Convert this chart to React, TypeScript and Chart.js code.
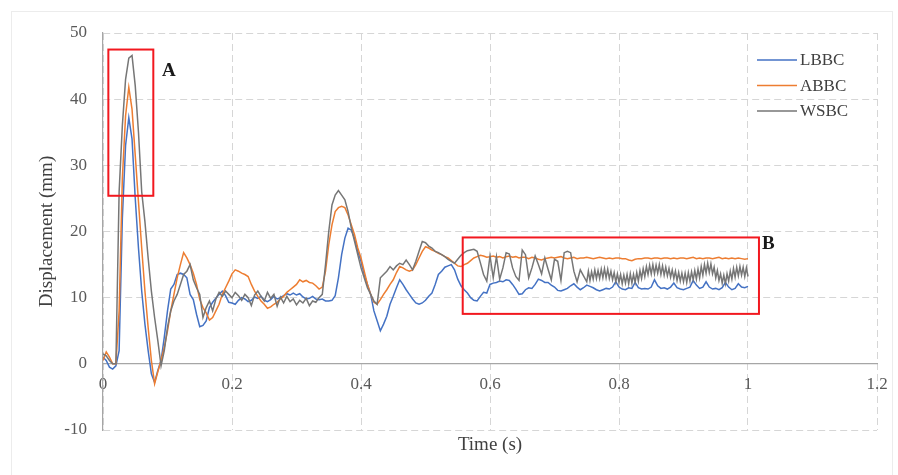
import React, { useEffect, useRef } from "react";
import { Chart, registerables } from "chart.js";

Chart.register(...registerables);

// ---- data ----
const TIME = [
  0, 0.005, 0.01, 0.015, 0.02, 0.025, 0.03, 0.035, 0.04, 0.045,
  0.05, 0.055, 0.06, 0.065, 0.07, 0.075, 0.08, 0.085, 0.09, 0.095,
  0.1, 0.105, 0.11, 0.115, 0.12, 0.125, 0.13, 0.135, 0.14, 0.145,
  0.15, 0.155, 0.16, 0.165, 0.17, 0.175, 0.18, 0.185, 0.19, 0.195,
  0.2, 0.205, 0.21, 0.215, 0.22, 0.225, 0.23, 0.235, 0.24, 0.245,
  0.25, 0.255, 0.26, 0.265, 0.27, 0.275, 0.28, 0.285, 0.29, 0.295,
  0.3, 0.305, 0.31, 0.315, 0.32, 0.325, 0.33, 0.335, 0.34, 0.345,
  0.35, 0.355, 0.36, 0.365, 0.37, 0.375, 0.38, 0.385, 0.39, 0.395,
  0.4, 0.405, 0.41, 0.415, 0.42, 0.425, 0.43, 0.435, 0.44, 0.445,
  0.45, 0.455, 0.46, 0.465, 0.47, 0.475, 0.48, 0.485, 0.49, 0.495,
  0.5, 0.505, 0.51, 0.515, 0.52, 0.525, 0.53, 0.535, 0.54, 0.545,
  0.55, 0.555, 0.56, 0.565, 0.57, 0.575, 0.58, 0.585, 0.59, 0.595,
  0.6, 0.605, 0.61, 0.615, 0.62, 0.625, 0.63, 0.635, 0.64, 0.645,
  0.65, 0.655, 0.66, 0.665, 0.67, 0.675, 0.68, 0.685, 0.69, 0.695,
  0.7, 0.705, 0.71, 0.715, 0.72, 0.725, 0.73, 0.735, 0.74, 0.745,
  0.75, 0.755, 0.76, 0.765, 0.77, 0.775, 0.78, 0.785, 0.79, 0.795,
  0.8, 0.805, 0.81, 0.815, 0.82, 0.825, 0.83, 0.835, 0.84, 0.845,
  0.85, 0.855, 0.86, 0.865, 0.87, 0.875, 0.88, 0.885, 0.89, 0.895,
  0.9, 0.905, 0.91, 0.915, 0.92, 0.925, 0.93, 0.935, 0.94, 0.945,
  0.95, 0.955, 0.96, 0.965, 0.97, 0.975, 0.98, 0.985, 0.99, 0.995,
  1.0,
];

const LBBC = [
  1.0, 0.5, -0.5, -0.8, -0.3, 2, 22, 33, 37.2, 34,
  25, 17.5, 11, 6, 2, -1.5, -2.8, -1, 0.5, 4,
  8, 11.3, 12, 13.5, 13.7, 13.5, 13, 10.5, 9.7, 7.5,
  5.6, 5.8, 6.5, 8.5, 9.3, 9.9, 10.5, 11, 10.3, 9.3,
  9.2, 9.0, 9.6, 10, 9.8, 9.4, 9.6, 10.1, 9.9, 10.2,
  9.6, 9.4, 9.7, 10.2, 9.8, 10, 10.3, 10.6, 10.4, 10.7,
  10.4, 10.6, 10.1, 9.8, 9.9, 10.2, 9.8, 9.7, 9.8, 9.5,
  9.5, 9.6, 10.3, 13, 16.5, 19, 20.5, 20.2, 19, 17,
  15.5, 13.5, 12, 10.5, 8, 6.5, 5.0, 6, 7.2, 9,
  10.2, 11.5, 12.7, 12, 11.2, 10.5, 9.8, 9.2, 9.0, 9.2,
  9.6, 10.2, 10.7, 12, 13.5, 14, 14.6, 14.8, 15, 14.2,
  12.8, 11.8, 11.2, 10.7, 10, 9.6, 9.5, 10.2, 10.8, 10.7,
  12.0, 12.2, 12.3, 12.5, 12.4, 12.7, 12.6, 12, 11.3, 10.5,
  10.6, 11.2, 11.5, 11.4, 12, 12.8, 12.6, 12.3, 12.3, 11.9,
  11.6, 11.1, 11, 11.2, 11.4, 11.8, 12.1, 11.6, 11.2, 11.5,
  11.9, 11.7, 11.5, 11.2, 11, 11.2, 11.4, 11.3, 11.6, 12.4,
  11.6, 11.3, 11.2, 11.5, 11.4, 12.3, 11.5, 11.3, 11.4, 11.3,
  11.6, 12.7, 11.8, 11.4, 11.5, 11.3, 11.6, 12.2, 11.5, 11.3,
  11.2, 11.4, 11.6, 12.6, 11.9, 11.4, 11.6, 12.4, 11.6, 11.3,
  11.4, 11.2, 11.5, 12.3, 11.6, 11.2, 11.4, 12.1, 11.6, 11.5,
  11.7,
];

const ABBC = [
  0.5, 1.8, 1.0, 0, 0, 8, 28, 37.5, 41.8, 38.5,
  31.5, 24.5, 17.5, 11, 5.5, 0.5, -3.0, -1.2, 0.5, 2.5,
  5, 8, 10.5, 13, 15, 16.8, 16, 15, 13.7, 12,
  9.7, 8.5, 7.7, 6.6, 7, 8, 9, 10.5, 11.5, 12.5,
  13.6, 14.2, 14, 13.7, 13.5, 13.2, 12, 11, 10.2, 9.5,
  9, 8.4, 8.6, 9, 9.3, 9.8, 10.2, 10.8, 11.2, 11.6,
  12, 12.7, 12.4, 12.6, 12.3, 12.2, 11.8, 11.3, 11.6, 14,
  18, 21, 23, 23.6, 23.8, 23.6, 22.5, 21, 19.5, 17.5,
  16, 14, 12, 10.5, 9.3, 9, 9.7, 10.5, 11.2, 12,
  12.7, 13.8, 14.7, 14.5, 14.2, 14, 14.2, 15, 16, 17,
  17.7, 17.5, 17.2, 17, 16.7, 16.5, 16.2, 16, 15.6, 15.2,
  14.8, 14.7, 15, 15.2, 15.6, 16, 16.2, 16.4, 16.3, 16.1,
  16.2, 16.3, 16.1, 16.2, 16.0, 16.2, 16.3, 16.1, 16.2, 16.0,
  16.1, 16.1, 15.9, 16.1, 16.0, 15.8, 15.7, 15.9, 16.0, 16.1,
  16.0, 16.1, 16.2, 16.0, 15.9, 16.0, 16.1, 15.9, 16.0, 16.0,
  16.1, 16.0, 15.9, 16.0, 16.1, 16.0, 15.9, 16.0, 15.9, 16.0,
  16.0, 15.9, 15.9, 15.7, 15.6, 15.8, 15.9, 15.9, 16.0, 16.0,
  15.9, 16.0, 16.0, 15.9, 16.0, 16.0, 15.9, 16.0, 15.9, 16.0,
  16.0, 15.9, 16.0, 16.1, 15.9, 16.0, 15.9, 16.0, 16.0, 15.9,
  16.0, 16.1, 15.9, 16.0, 15.9, 16.0, 15.9, 16.0, 15.9, 15.8,
  15.9,
];

// WSBC on the TIME grid up to 0.75 s
const WSBC = [
  1.5, 1.2, 0.5, 0, 0, 26, 36, 43, 46.2, 46.6,
  42, 35, 26, 21.5, 16, 11, 7, 3.5, -0.3, 2,
  5.5, 8, 9.5, 10.5, 12, 13.5, 14, 15, 12.7, 11.5,
  10.5, 7, 8.5, 9.5, 8, 9.8, 10.8, 10.2, 11, 10.5,
  10, 10.8, 10.3, 9.6, 10.5, 10, 8.8, 10.4, 11, 10.2,
  9.5, 10.8, 9.9, 10.5, 8.7, 10.1, 9.2, 10.2, 9.4, 9.8,
  8.9, 9.6, 9.2, 9.9, 8.8, 9.5, 9.3, 10, 10.5, 15,
  20, 24, 25.5, 26.2, 25.5, 24.8, 23, 20.5, 18.5, 16.5,
  14.5, 13, 11.5, 10.5, 9.5, 9, 13, 13.5, 14, 14.7,
  14.2, 14.8, 15.2, 15, 15.7, 15, 14.2, 15.5, 17, 18.5,
  18.3, 17.8, 17.5, 17, 16.8, 16.5, 16.2, 15.8, 15.5, 15.2,
  15.8, 16.4, 16.8, 17.1, 17.2, 17.3, 17.0, 15.3, 13.5, 12.5,
  16.3, 13, 16.2, 12.8, 14.5, 16.8, 16.6, 14.5, 13.2, 12.6,
  17.2, 16.5, 13, 14.5, 16.3, 15, 13.6, 16, 14.3, 12.7,
  15.8, 15.5, 12.6, 16.8, 17, 16.8, 14, 12.4, 14.2, 13.3,
  12.4,
];

// WSBC fast-oscillation band, finer sampling after 0.75 s
const WSBC_BAND_TIME = [
  0.7525, 0.755, 0.7575, 0.76, 0.7625, 0.765, 0.7675, 0.77, 0.7725, 0.775,
  0.7775, 0.78, 0.7825, 0.785, 0.7875, 0.79, 0.7925, 0.795, 0.7975, 0.8,
  0.8025, 0.805, 0.8075, 0.81, 0.8125, 0.815, 0.8175, 0.82, 0.8225, 0.825,
  0.8275, 0.83, 0.8325, 0.835, 0.8375, 0.84, 0.8425, 0.845, 0.8475, 0.85,
  0.8525, 0.855, 0.8575, 0.86, 0.8625, 0.865, 0.8675, 0.87, 0.8725, 0.875,
  0.8775, 0.88, 0.8825, 0.885, 0.8875, 0.89, 0.8925, 0.895, 0.8975, 0.9,
  0.9025, 0.905, 0.9075, 0.91, 0.9125, 0.915, 0.9175, 0.92, 0.9225, 0.925,
  0.9275, 0.93, 0.9325, 0.935, 0.9375, 0.94, 0.9425, 0.945, 0.9475, 0.95,
  0.9525, 0.955, 0.9575, 0.96, 0.9625, 0.965, 0.9675, 0.97, 0.9725, 0.975,
  0.9775, 0.98, 0.9825, 0.985, 0.9875, 0.99, 0.9925, 0.995, 0.9975, 1.0,
];
const WSBC_BAND = [
  14.0, 12.6, 13.9, 12.8, 14.2, 12.9, 14.1, 12.9, 14.3, 13.0,
  14.4, 13.0, 14.3, 12.9, 14.0, 12.7, 13.8, 12.4, 13.6, 12.3,
  13.5, 12.1, 13.4, 12.2, 13.5, 12.1, 13.6, 12.2, 13.5, 12.3,
  13.8, 12.5, 14.1, 12.9, 14.4, 13.2, 14.7, 13.5, 14.9, 13.6,
  15.0, 13.6, 14.9, 13.7, 15.0, 13.5, 14.8, 13.4, 14.6, 13.3,
  14.4, 13.1, 14.2, 12.9, 14.0, 12.6, 13.8, 12.5, 13.7, 12.4,
  13.7, 12.3, 13.8, 12.5, 13.9, 12.7, 14.1, 12.8, 14.3, 13.0,
  14.7, 13.4, 15.0, 13.7, 15.2, 13.8, 15.1, 13.6, 14.6, 13.0,
  14.1, 12.6, 13.6, 12.2, 13.4, 12.1, 13.6, 12.5, 14.0, 12.8,
  14.4, 13.1, 14.6, 13.3, 14.7, 13.4, 14.6, 13.2, 14.5, 13.2,
];

const SERIES_NAMES = ["LBBC", "ABBC", "WSBC"];
const SERIES_COLORS = ["#4472C4", "#ED7D31", "#767676"];

const X_MIN = 0;
const X_MAX = 1.2;
const X_STEP = 0.2;
const Y_MIN = -10;
const Y_MAX = 50;
const Y_STEP = 10;

const X_TITLE = "Time (s)";
const Y_TITLE = "Displacement (mm)";

// highlighted regions (data coordinates)
const REGION_LABELS = ["A", "B"];
const REGION_X0 = [0.0083, 0.5577];
const REGION_X1 = [0.078, 1.017];
const REGION_YTOP = [47.5, 19.1];
const REGION_YBOTTOM = [25.4, 7.55];
const REGION_LABEL_X = [0.0915, 1.0217];
const REGION_LABEL_Y = [43.5, 17.4];

const SERIF = "'Liberation Serif', 'Times New Roman', serif";

const overlayPlugin = {
  id: "overlay",
  afterDatasetsDraw(chart: any) {
    const { ctx, chartArea: ca } = chart;
    const xs = chart.scales.x;
    const ys = chart.scales.y;
    ctx.save();
    for (let i = 0; i < REGION_LABELS.length; i++) {
      const x0 = xs.getPixelForValue(REGION_X0[i]);
      const x1 = xs.getPixelForValue(REGION_X1[i]);
      const y0 = ys.getPixelForValue(REGION_YTOP[i]);
      const y1 = ys.getPixelForValue(REGION_YBOTTOM[i]);
      ctx.strokeStyle = "#f2181f";
      ctx.lineWidth = 2;
      ctx.setLineDash([]);
      ctx.strokeRect(x0, y0, x1 - x0, y1 - y0);
      ctx.fillStyle = "#1a1a1a";
      ctx.font = `bold 19px ${SERIF}`;
      ctx.textAlign = "left";
      ctx.textBaseline = "alphabetic";
      ctx.fillText(
        REGION_LABELS[i],
        xs.getPixelForValue(REGION_LABEL_X[i]),
        ys.getPixelForValue(REGION_LABEL_Y[i])
      );
    }
    chart.data.datasets.forEach((ds: any, i: number) => {
      const yy = ca.top + 27 + i * 25.5;
      ctx.strokeStyle = ds.borderColor;
      ctx.lineWidth = 1.5;
      ctx.beginPath();
      ctx.moveTo(ca.right - 120, yy);
      ctx.lineTo(ca.right - 80, yy);
      ctx.stroke();
      ctx.fillStyle = "#404040";
      ctx.font = `17px ${SERIF}`;
      ctx.textAlign = "left";
      ctx.textBaseline = "middle";
      ctx.fillText(ds.label, ca.right - 77, yy + 1);
    });
    ctx.restore();
  },
};

export default function App() {
  const canvasRef = useRef<HTMLCanvasElement | null>(null);

  useEffect(() => {
    document.body.style.margin = "0";
    const canvas = canvasRef.current;
    if (!canvas) return;

    const seriesPoints = [
      TIME.map((t, i) => ({ x: t, y: LBBC[i] })),
      TIME.map((t, i) => ({ x: t, y: ABBC[i] })),
      WSBC.map((v, i) => ({ x: TIME[i], y: v })).concat(
        WSBC_BAND.map((v, i) => ({ x: WSBC_BAND_TIME[i], y: v }))
      ),
    ];

    const datasets = SERIES_NAMES.map((name, s) => ({
      label: name,
      data: seriesPoints[s],
      borderColor: SERIES_COLORS[s],
      backgroundColor: SERIES_COLORS[s],
      borderWidth: 1.5,
      pointRadius: 0,
      tension: 0,
      fill: false,
      order: 2 - s,
    }));

    const tickFont = { family: SERIF, size: 17 };
    const titleFont = { family: SERIF, size: 19 };

    const chart = new Chart(canvas, {
      type: "line",
      data: { datasets },
      options: {
        animation: false,
        responsive: false,
        devicePixelRatio: 1,
        layout: { padding: { top: 33, right: 21, bottom: 0, left: 0 } },
        plugins: {
          legend: { display: false },
          tooltip: { enabled: false },
        },
        scales: {
          x: {
            type: "linear",
            position: { y: 0 } as any,
            min: X_MIN,
            max: X_MAX,
            ticks: {
              stepSize: X_STEP,
              font: tickFont,
              color: "#595959",
              padding: 10,
              maxRotation: 0,
              callback: (v: any) => String(Math.round(Number(v) * 10) / 10),
            },
            grid: { color: "#d6d6d6", lineWidth: 1, drawTicks: false },
            border: { display: true, color: "#a6a6a6", width: 1.2, dash: [7, 4] },
          },
          xTitle: {
            type: "linear",
            position: "bottom",
            min: X_MIN,
            max: X_MAX,
            ticks: { display: false },
            grid: { display: false, drawTicks: false },
            border: { display: false },
            title: {
              display: true,
              text: X_TITLE,
              font: titleFont,
              color: "#404040",
              padding: { top: 0, bottom: 19 },
            },
            afterFit: (s: any) => {
              s.height = 45;
            },
          },
          y: {
            type: "linear",
            position: "left",
            min: Y_MIN,
            max: Y_MAX,
            ticks: {
              stepSize: Y_STEP,
              font: tickFont,
              color: "#595959",
              padding: 16,
            },
            grid: { color: "#d6d6d6", lineWidth: 1, drawTicks: false },
            border: { display: true, color: "#a6a6a6", width: 1.2, dash: [7, 4] },
            title: {
              display: true,
              text: Y_TITLE,
              font: titleFont,
              color: "#404040",
              padding: { top: 36, bottom: 0 },
            },
            afterFit: (s: any) => {
              s.width = 103;
            },
          },
        },
      },
      plugins: [overlayPlugin],
    } as any);

    return () => chart.destroy();
  }, []);

  return (
    <div style={{ position: "relative", width: 898, height: 475, background: "#fff" }}>
      <div
        style={{
          position: "absolute",
          left: 11,
          top: 11,
          width: 882,
          height: 470,
          border: "1px solid #ececec",
          boxSizing: "border-box",
        }}
      />
      <canvas
        ref={canvasRef}
        width={898}
        height={475}
        style={{ position: "absolute", left: 0, top: 0, display: "block" }}
      />
    </div>
  );
}
